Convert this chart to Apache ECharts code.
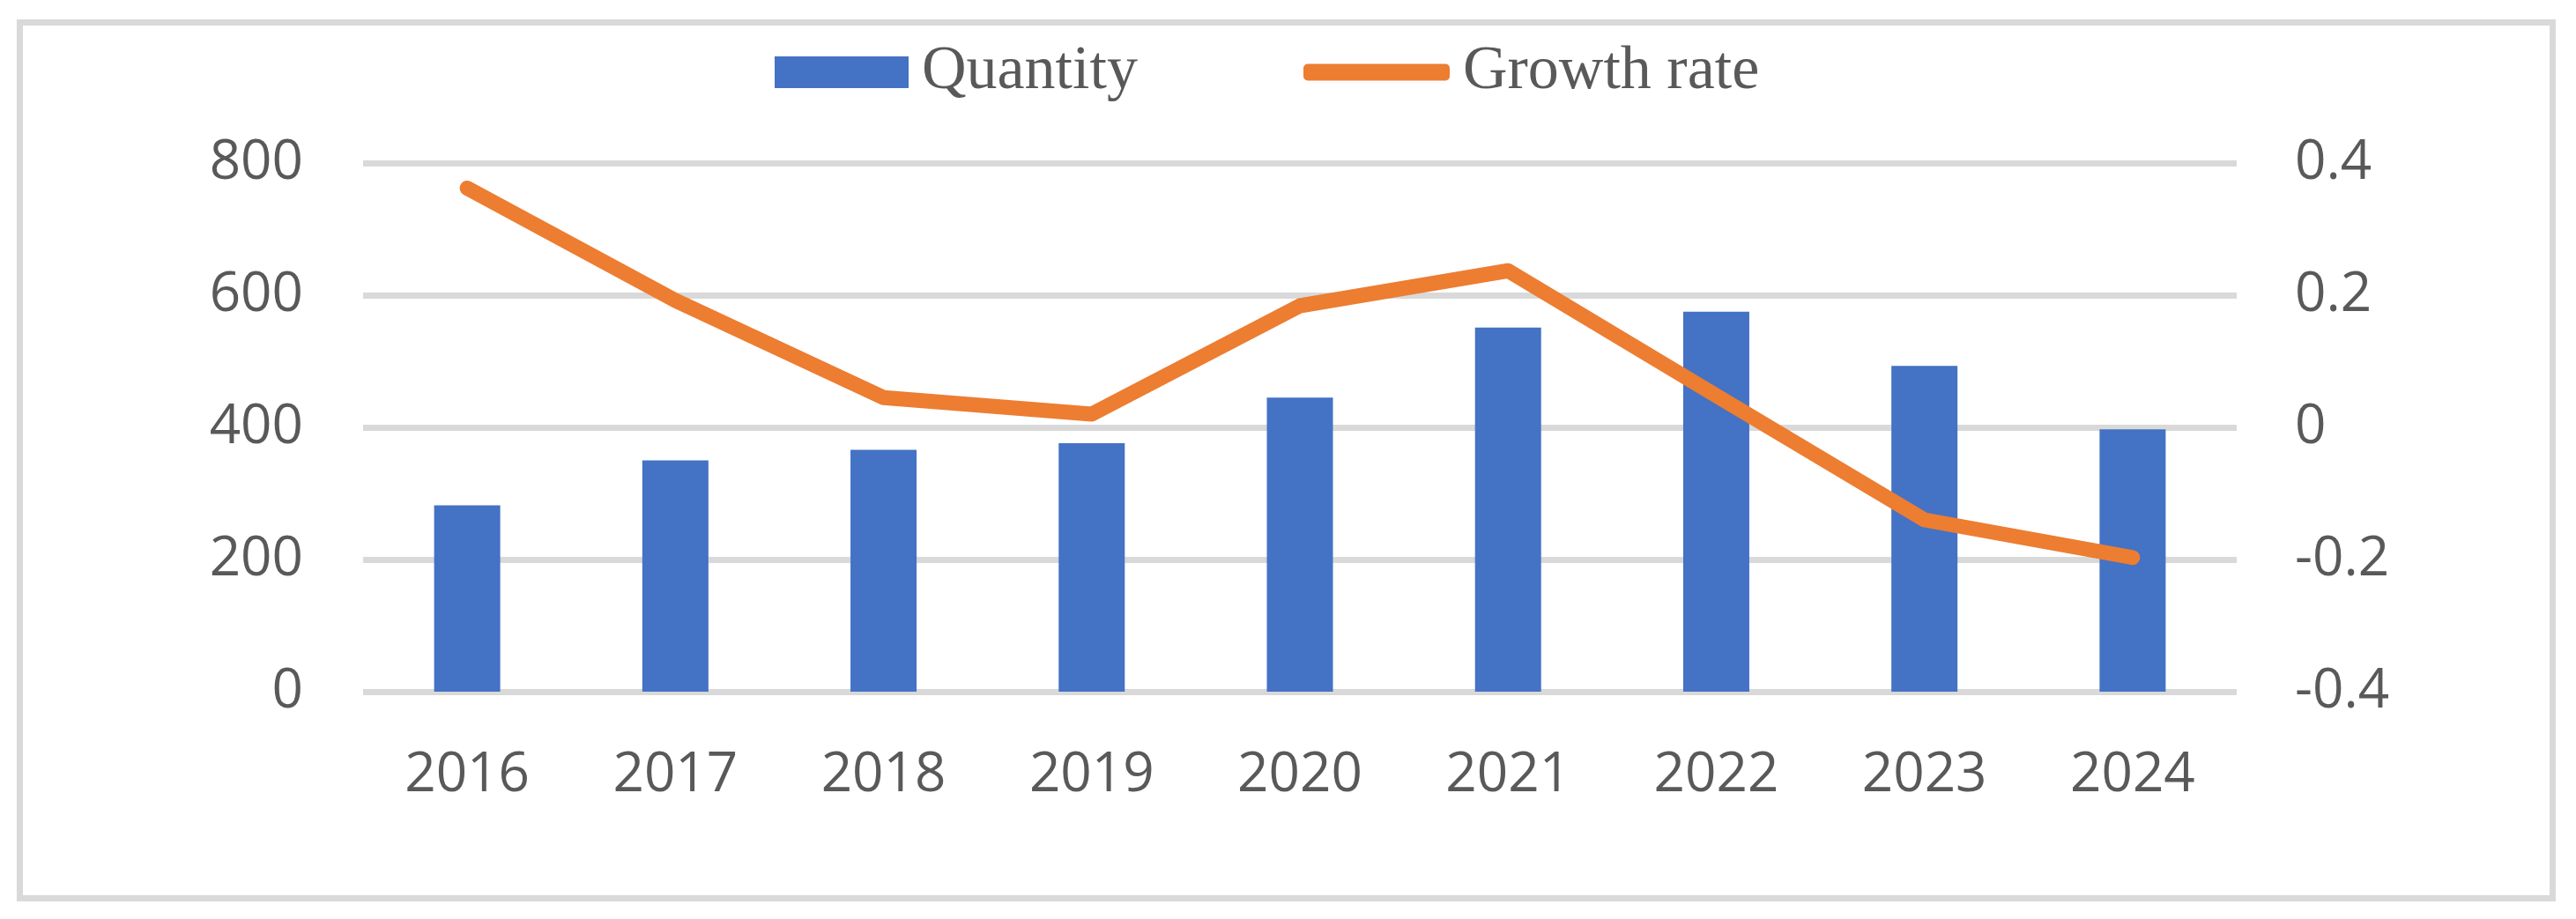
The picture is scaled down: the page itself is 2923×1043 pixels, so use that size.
<!DOCTYPE html>
<html>
<head>
<meta charset="utf-8">
<script src="https://cdn.jsdelivr.net/npm/echarts@6/dist/echarts.min.js"></script>
<style>
html,body{margin:0;padding:0;background:#fff;}
#chart{width:2923px;height:1043px;}
</style>
</head>
<body>
<div id="chart"></div>
<script>
var categories = ['2016','2017','2018','2019','2020','2021','2022','2023','2024'];
var quantity = [282, 350, 366, 376, 445, 551, 575, 493, 397];
var growthRate = [0.362, 0.192, 0.045, 0.020, 0.184, 0.237, 0.048, -0.140, -0.197];
var leftTicks = {min: 0, max: 800, interval: 200};
var rightTicks = {min: -0.4, max: 0.4, interval: 0.2};

var chart = echarts.init(document.getElementById('chart'), null, {renderer: 'canvas'});
var axisFont = {fontFamily: 'Open Sans', fontSize: 62, color: '#595959'};
var legendFont = {fontFamily: 'Liberation Serif', fontSize: 70, color: '#595959', padding: [0, 0, 0, 10]};

chart.setOption({
  backgroundColor: '#ffffff',
  animation: false,
  graphic: [{
    type: 'rect',
    shape: {x: 22.5, y: 25.5, width: 2874, height: 994},
    style: {fill: 'none', stroke: '#d9d9d9', lineWidth: 7},
    silent: true
  }],
  legend: [{
    data: [{name: 'Quantity', icon: 'rect'}],
    left: 874, top: 42,
    itemWidth: 152, itemHeight: 36,
    textStyle: legendFont
  }, {
    data: [{name: 'Growth rate', icon: 'roundRect'}],
    left: 1474, top: 42,
    itemWidth: 166, itemHeight: 19,
    textStyle: legendFont
  }],
  grid: {left: 412, right: 385, top: 185, bottom: 258, containLabel: false},
  xAxis: {
    type: 'category',
    data: categories,
    axisLine: {show: false},
    axisTick: {show: false},
    axisLabel: Object.assign({margin: 64}, axisFont),
    splitLine: {show: false}
  },
  yAxis: [{
    type: 'value',
    min: leftTicks.min, max: leftTicks.max, interval: leftTicks.interval,
    axisLine: {show: false},
    axisTick: {show: false},
    axisLabel: Object.assign({margin: 68}, axisFont),
    splitLine: {show: true, lineStyle: {color: '#d9d9d9', width: 7}}
  }, {
    type: 'value',
    position: 'right',
    min: rightTicks.min, max: rightTicks.max, interval: rightTicks.interval,
    axisLine: {show: false},
    axisTick: {show: false},
    axisLabel: Object.assign({margin: 66, formatter: function (v) { return String(Math.round(v * 10) / 10); }}, axisFont),
    splitLine: {show: false}
  }],
  series: [{
    name: 'Quantity',
    type: 'bar',
    data: quantity,
    barWidth: 75,
    itemStyle: {color: '#4472C4'},
    yAxisIndex: 0
  }, {
    name: 'Growth rate',
    type: 'line',
    data: growthRate,
    yAxisIndex: 1,
    showSymbol: false,
    symbol: 'none',
    itemStyle: {color: '#ED7D31'},
    lineStyle: {color: '#ED7D31', width: 17, cap: 'round', join: 'round'}
  }]
});
</script>
</body>
</html>
